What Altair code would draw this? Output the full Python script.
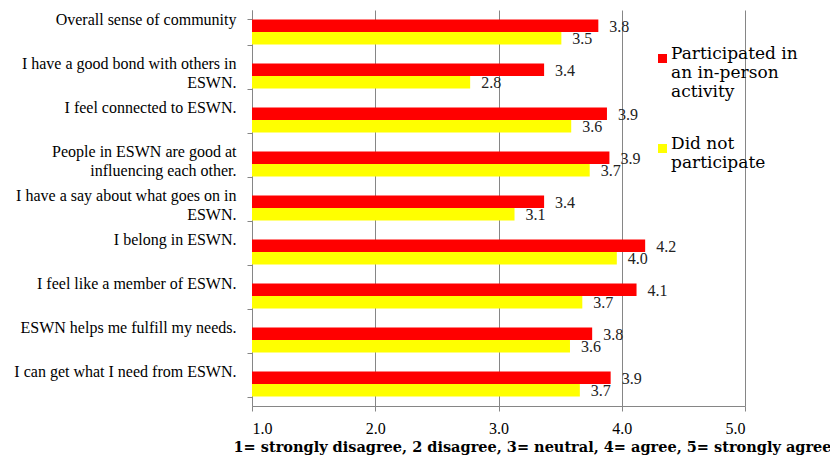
import altair as alt
import pandas as pd

categories = [
    "Overall sense of community",
    "I have a good bond with others in ESWN.",
    "I feel connected to ESWN.",
    "People in ESWN are good at influencing each other.",
    "I have a say about what goes on in ESWN.",
    "I belong in ESWN.",
    "I feel like a member of ESWN.",
    "ESWN helps me fulfill my needs.",
    "I can get what I need from ESWN.",
]
participated = [3.81, 3.37, 3.88, 3.90, 3.37, 4.19, 4.12, 3.76, 3.91]
not_participated = [3.51, 2.77, 3.59, 3.74, 3.13, 3.96, 3.68, 3.58, 3.66]
series = ["Participated in an in-person activity", "Did not participate"]
colors = ["#FF0000", "#FFFF00"]
x_ticks = [1, 2, 3, 4, 5]
x_title = "1= strongly  disagree, 2 disagree, 3= neutral,  4= agree, 5= strongly  agree"

wrap_cat = {
    "I have a good bond with others in ESWN.": ["I have a good bond with others in", "ESWN."],
    "People in ESWN are good at influencing each other.": ["People in ESWN are good at", "influencing each other."],
    "I have a say about what goes on in ESWN.": ["I have a say about what goes on in", "ESWN."],
}
wrap_leg = {
    series[0]: ["Participated in", "an in-person", "activity"],
    series[1]: ["Did not", "participate"],
}


def lookup_expr(d):
    expr = "datum.label"
    for k, v in d.items():
        arr = "[" + ",".join("'" + s + "'" for s in v) + "]"
        expr = f"datum.label == '{k}' ? {arr} : ({expr})"
    return expr


rows = []
for c, a, b in zip(categories, participated, not_participated):
    rows.append({"cat": c, "series": series[0], "value": a})
    rows.append({"cat": c, "series": series[1], "value": b})
df = pd.DataFrame(rows)

FONT = "Liberation Serif"
FONT2 = "DejaVu Serif"

y_enc = alt.Y(
    "cat:N",
    sort=categories,
    title=None,
    scale=alt.Scale(paddingInner=0.43, paddingOuter=0.215),
    axis=alt.Axis(
        labelExpr=lookup_expr(wrap_cat),
        labelFont=FONT,
        labelFontSize=16,
        labelColor="#000000",
        labelLimit=320,
        labelBaseline="top",
        labelOffset=-21,
        labelLineHeight=19,
        labelPadding=11,
        tickSize=5,
        tickBand="extent",
        tickColor="#868686",
        domainColor="#868686",
        grid=False,
    ),
)

x_enc = alt.X(
    "value:Q",
    scale=alt.Scale(domain=[1, 5], zero=False, nice=False),
    title=x_title,
    axis=alt.Axis(
        values=x_ticks,
        format=".1f",
        labelFont=FONT,
        labelFontSize=16,
        labelColor="#000000",
        labelPadding=9,
        tickSize=5,
        tickColor="#868686",
        domainColor="#868686",
        gridColor="#868686",
        grid=True,
        titleFont=FONT2,
        titleFontSize=14.5,
        titleFontWeight="bold",
        titleColor="#000000",
        titleBaseline="top",
        titleAlign="center",
        titleAnchor="start",
        titleX=280,
        titleY=34,
    ),
)

color_enc = alt.Color(
    "series:N",
    scale=alt.Scale(domain=series, range=colors),
    sort=series,
    legend=alt.Legend(
        title=None,
        orient="none",
        legendX=402,
        legendY=40,
        labelExpr=lookup_expr(wrap_leg),
        labelFont=FONT2,
        labelFontSize=17,
        labelColor="#000000",
        labelBaseline="alphabetic",
        labelLimit=300,
        labelOffset=0,
        symbolType="square",
        symbolSize=81,
        symbolStrokeWidth=0,
        rowPadding=34,
    ),
)

base = alt.Chart(df)

bars = base.mark_bar().encode(
    y=y_enc,
    x=x_enc,
    x2=alt.datum(1),
    yOffset=alt.YOffset("series:N", sort=series),
    color=color_enc,
)

labels = base.mark_text(
    align="left", baseline="middle", dx=11, dy=1, font=FONT, fontSize=16, color="#222222"
).encode(
    y=alt.Y("cat:N", sort=categories),
    x=alt.X("value:Q"),
    yOffset=alt.YOffset("series:N", sort=series),
    text=alt.Text("value:Q", format=".1f"),
)

chart = (
    alt.layer(bars, labels)
    .properties(
        width=493,
        height=396,
        autosize=alt.AutoSizeParams(type="none"),
        padding={"left": 244, "top": 2, "right": 85, "bottom": 50},
    )
    .configure_view(stroke=None)
)

chart.save("out.html", embed_options={"renderer": "svg", "actions": False})
